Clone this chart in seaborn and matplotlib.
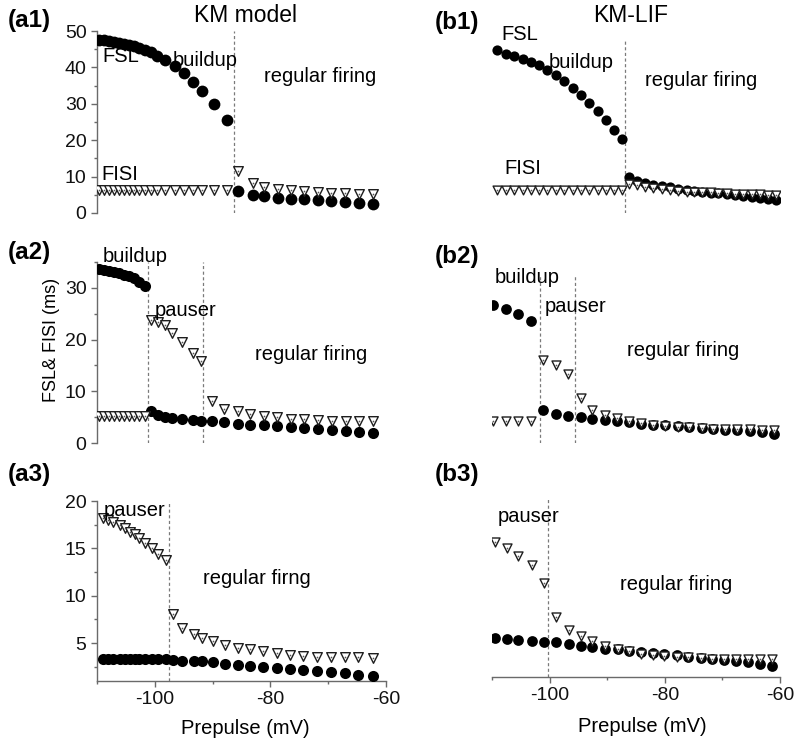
import matplotlib
matplotlib.use("Agg")
import matplotlib.pyplot as plt
import seaborn as sns
import pandas as pd
from matplotlib.ticker import MultipleLocator

# ---------------- data ----------------
a1_v = [-109.65, -108.79, -107.92, -107.06, -106.19, -105.27, -104.41, -103.54, -102.68, -101.70,
        -100.71, -99.67, -98.24, -96.51, -94.95, -93.45, -91.89, -89.76, -87.45,
        -85.55, -83.06, -81.05, -78.74, -76.44, -74.19, -71.82, -69.52, -67.09, -64.62, -62.19]
a1_fsl = [47.6, 47.4, 47.2, 47.0, 46.8, 46.5, 46.2, 45.8, 45.4, 44.8,
          44.1, 43.2, 42.0, 40.4, 38.5, 36.0, 33.4, 29.9, 25.5,
          5.96, 5.05, 4.67, 4.2, 3.94, 3.75, 3.48, 3.3, 3.02, 2.75, 2.4]
a1_fisi = [6.2, 6.2, 6.2, 6.2, 6.2, 6.2, 6.2, 6.2, 6.2, 6.2,
           6.2, 6.2, 6.2, 6.2, 6.2, 6.2, 6.2, 6.2, 6.2,
           11.5, 8.35, 7.15, 6.5, 6.2, 5.96, 5.78, 5.6, 5.5, 5.3, 5.1]

a2_v = [-109.65, -108.79, -107.92, -107.06, -106.19, -105.27, -104.41, -103.54, -102.68, -101.70,
        -100.6, -99.5, -98.2, -96.97, -95.35, -93.45, -92.0,
        -90.16, -87.97, -85.55, -83.53, -81.05, -78.92, -76.44, -74.19, -71.82, -69.40, -66.98, -64.62, -62.19]
a2_fsl = [33.65, 33.5, 33.3, 33.1, 32.9, 32.56, 32.2, 31.85, 31.2, 30.3,
          6.1, 5.45, 5.1, 4.9, 4.67, 4.48, 4.35,
          4.16, 3.97, 3.65, 3.5, 3.4, 3.2, 3.0, 2.88, 2.75, 2.55, 2.4, 2.2, 2.0]
a2_fisi = [5.3, 5.3, 5.3, 5.3, 5.3, 5.3, 5.3, 5.3, 5.3, 5.3,
           23.7, 23.4, 22.75, 21.3, 19.5, 17.4, 15.8,
           8.2, 6.6, 6.1, 5.6, 5.25, 5.0, 4.67, 4.55, 4.4, 4.35, 4.3, 4.23, 4.16]

a3_v = [-109.02, -108.04, -107.17, -106.02, -105.16, -104.29, -103.43, -102.68, -101.70, -100.54, -99.39, -98.06,
        -96.91, -95.35, -93.22, -91.89, -89.99, -87.85, -85.66, -83.53, -81.34, -78.92, -76.61, -74.30,
        -71.88, -69.57, -67.09, -64.79, -62.31]
a3_fsl = [3.35, 3.35, 3.35, 3.35, 3.35, 3.33, 3.33, 3.3, 3.3, 3.3, 3.28, 3.28,
          3.25, 3.14, 3.07, 3.07, 2.97, 2.79, 2.72, 2.62, 2.44, 2.37, 2.27, 2.16,
          2.02, 1.92, 1.81, 1.67, 1.5]
a3_fisi = [18.18, 18.0, 17.76, 17.48, 17.13, 16.78, 16.5, 16.08, 15.56, 15.03, 14.4, 13.8,
           8.04, 6.57, 5.94, 5.52, 5.24, 4.82, 4.47, 4.36, 4.12, 3.91, 3.77, 3.67,
           3.56, 3.56, 3.49, 3.49, 3.42]

b1_v = [-109.19, -107.63, -106.12, -104.68, -103.23, -101.84, -100.39, -98.95, -97.44, -95.99,
        -94.55, -93.10, -91.65, -90.27, -88.82, -87.49,
        -86.22, -84.88, -83.44, -81.99, -80.54, -79.10, -77.65, -76.20, -74.87, -73.48,
        -72.04, -70.71, -69.26, -67.81, -66.37, -64.92, -63.47, -62.03, -60.70]
b1_fsl = [44.7, 43.8, 43.0, 42.2, 41.5, 40.6, 39.4, 37.8, 36.2, 34.3,
          32.3, 30.2, 27.9, 25.5, 22.7, 20.2,
          9.9, 8.8, 8.25, 7.8, 7.4, 7.05, 6.7, 6.4, 6.15, 5.9,
          5.6, 5.4, 5.15, 4.85, 4.6, 4.3, 4.0, 3.75, 3.5]
b1_fisi = [6.4, 6.4, 6.4, 6.4, 6.4, 6.4, 6.4, 6.4, 6.4, 6.4,
           6.4, 6.4, 6.4, 6.4, 6.4, 6.4,
           8.1, 7.6, 7.15, 6.9, 6.5, 6.2, 6.05, 5.9, 5.8, 5.7,
           5.65, 5.6, 5.4, 5.35, 5.3, 5.15, 5.1, 5.0, 4.9]

b2_v = [-109.77, -107.63, -105.43, -103.23,
        -101.09, -98.95, -96.75,
        -94.61, -92.58, -90.38, -88.24, -86.22, -84.13, -81.99, -79.97, -77.77, -75.80, -73.60,
        -71.57, -69.55, -67.41, -65.21, -63.18, -60.98]
b2_fsl = [26.7, 25.95, 24.9, 23.5,
          6.4, 5.63, 5.25,
          5.0, 4.67, 4.48, 4.16, 4.03, 3.65, 3.52, 3.4, 3.2, 3.07, 2.88,
          2.69, 2.56, 2.43, 2.24, 2.05, 1.73]
b2_fisi = [4.3, 4.3, 4.3, 4.3,
           16.0, 15.06, 13.3,
           8.77, 6.4, 5.44, 4.8, 4.29, 3.85, 3.52, 3.33, 3.07, 3.0, 2.88,
           2.75, 2.69, 2.69, 2.69, 2.56, 2.56]

b3_v = [-109.5, -107.4, -105.4, -103.1, -101.0, -98.9, -96.7, -94.5, -92.6, -90.4, -88.2, -86.3,
        -84.2, -82.1, -80.1, -77.9, -76.0, -73.8, -71.8, -69.8, -67.7, -65.5, -63.5, -61.4]
b3_fsl = [5.08, 5.0, 4.9, 4.8, 4.73, 4.66, 4.5, 4.3, 4.13, 4.0, 3.96, 3.78,
          3.6, 3.5, 3.43, 3.32, 3.15, 2.97, 2.87, 2.8, 2.72, 2.55, 2.37, 2.2]
b3_fisi = [15.3, 14.6, 13.8, 12.8, 10.9, 7.3, 6.0, 5.3, 4.8, 4.3, 4.0, 3.7,
           3.4, 3.3, 3.25, 3.1, 3.1, 3.0, 2.9, 2.9, 2.85, 2.85, 2.85, 2.85]

# regime boundaries (mV)
a1_bounds = [-86.25]
a2_bounds = [-101.12, -91.72]
a3_bounds = [-97.54]
b1_bounds = [-86.9]
b2_bounds = [-101.67, -95.59]
b3_bounds = [-100.2]

x_ticks = [-100, -80, -60]

# ---------------- figure ----------------
sns.set_theme(style="white")
plt.rcParams['font.family'] = ['Liberation Sans', 'DejaVu Sans']
plt.rcParams['text.color'] = 'black'
plt.rcParams['axes.labelcolor'] = 'black'

W, H = 800, 748
fig = plt.figure(figsize=(8, 7.48), dpi=100)

def add_ax(x0, y0, x1, y1):
    return fig.add_axes([x0 / W, 1 - y1 / H, (x1 - x0) / W, (y1 - y0) / H])

def ftext(x, y, s, **kw):
    fig.text(x / W, 1 - y / H, s, ha='center', va='center', color='black', **kw)

AX_COL = '#6a6a6a'
ANN = 14.5
TICK = 14

def draw(ax, v, fsl, fisi, ylim, bounds, cs, ts, vspan=None):
    df = pd.DataFrame({'v': v, 'fsl': fsl, 'fisi': fisi})
    sns.scatterplot(data=df, x='v', y='fsl', ax=ax, color='black', s=cs, marker='o',
                    linewidth=0, zorder=3)
    sns.scatterplot(data=df, x='v', y='fisi', ax=ax, color='white', s=ts, marker='v',
                    edgecolor='#1e1e1e', linewidth=1.0, zorder=4)
    sns.scatterplot(data=df, x='v', y='fisi', ax=ax, color='#555555', s=1.5, marker='o',
                    linewidth=0, zorder=5)
    ax.set_xlim(-110, -60)
    ax.set_ylim(*ylim)
    for b in bounds:
        if vspan is None:
            ax.axvline(b, color='#7a7a7a', lw=0.9, ls=(0, (2.5, 2)), zorder=1)
        else:
            ax.vlines(b, vspan[0], vspan[1], color='#7a7a7a', lw=0.9, ls=(0, (2.5, 2)), zorder=1)
    ax.set_xlabel('')
    ax.set_ylabel('')
    for s in ax.spines.values():
        s.set_visible(False)
    ax.set_facecolor('none')

def style_y(ax, major, minor):
    ax.spines['left'].set_visible(True)
    ax.spines['left'].set_color(AX_COL)
    ax.spines['left'].set_linewidth(1.0)
    ax.yaxis.set_major_locator(MultipleLocator(major))
    ax.yaxis.set_minor_locator(MultipleLocator(minor))
    ax.tick_params(axis='y', which='both', left=True, direction='out', color=AX_COL,
                   labelsize=TICK, labelcolor='#111111', width=1.0)
    ax.tick_params(axis='y', which='major', length=4)
    ax.tick_params(axis='y', which='minor', length=2.5)

def style_x(ax):
    ax.spines['bottom'].set_visible(True)
    ax.spines['bottom'].set_color(AX_COL)
    ax.spines['bottom'].set_linewidth(1.0)
    ax.set_xticks(x_ticks)
    ax.set_xticklabels([str(t) for t in x_ticks])
    ax.xaxis.set_minor_locator(MultipleLocator(10))
    ax.tick_params(axis='x', which='both', bottom=True, direction='out', color=AX_COL,
                   labelsize=TICK, labelcolor='#111111', width=1.0)
    ax.tick_params(axis='x', which='major', length=4)
    ax.tick_params(axis='x', which='minor', length=2.5)

# a1
ax = add_ax(97, 31, 386, 213)
draw(ax, a1_v, a1_fsl, a1_fisi, (0, 50), a1_bounds, 72, 48)
style_y(ax, 10, 5)
ax.set_xticks([])

# a2
ax = add_ax(97, 262, 386, 443)
draw(ax, a2_v, a2_fsl, a2_fisi, (0, 35), a2_bounds, 64, 48)
style_y(ax, 10, 5)
ax.set_xticks([])

# a3
ax = add_ax(97, 501, 386, 681)
draw(ax, a3_v, a3_fsl, a3_fisi, (1, 20), a3_bounds, 64, 48)
style_y(ax, 5, 2.5)
ax.set_yticks([5, 10, 15, 20])
style_x(ax)

# b1
ax = add_ax(492, 31, 780, 213)
draw(ax, b1_v, b1_fsl, b1_fisi, (0, 50), b1_bounds, 54, 40, vspan=(0, 47.5))
ax.set_xticks([]); ax.set_yticks([])

# b2
ax = add_ax(492, 262, 780, 443)
draw(ax, b2_v, b2_fsl, b2_fisi, (0, 35), b2_bounds, 60, 42, vspan=(0, 32.4))
ax.set_xticks([]); ax.set_yticks([])

# b3
ax = add_ax(492, 497, 780, 677)
draw(ax, b3_v, b3_fsl, b3_fisi, (1, 20), b3_bounds, 60, 42)
ax.set_yticks([])
style_x(ax)

# ---------------- text ----------------
ftext(29, 20, '(a1)', fontsize=17.5, fontweight='bold')
ftext(457, 22, '(b1)', fontsize=17.5, fontweight='bold')
ftext(29, 253, '(a2)', fontsize=17.5, fontweight='bold')
ftext(457, 257, '(b2)', fontsize=17.5, fontweight='bold')
ftext(29, 475, '(a3)', fontsize=17.5, fontweight='bold')
ftext(457, 475, '(b3)', fontsize=17.5, fontweight='bold')

ftext(245, 15, 'KM model', fontsize=16.5)
ftext(631, 15, 'KM-LIF', fontsize=16.5)

ftext(121, 57, 'FSL', fontsize=ANN)
ftext(205, 60, 'buildup', fontsize=ANN)
ftext(320, 77, 'regular firing', fontsize=ANN)
ftext(120, 175, 'FISI', fontsize=ANN)

ftext(520, 35, 'FSL', fontsize=ANN)
ftext(581, 62, 'buildup', fontsize=ANN)
ftext(701, 81, 'regular firing', fontsize=ANN)
ftext(523, 168, 'FISI', fontsize=ANN)

ftext(135, 256, 'buildup', fontsize=ANN)
ftext(186, 310, 'pauser', fontsize=ANN)
ftext(311, 354, 'regular firing', fontsize=ANN)

ftext(527, 278, 'buildup', fontsize=ANN)
ftext(576, 307, 'pauser', fontsize=ANN)
ftext(683, 351, 'regular firing', fontsize=ANN)

ftext(135, 511, 'pauser', fontsize=ANN)
ftext(257, 578, 'regular firng', fontsize=ANN)

ftext(529, 517, 'pauser', fontsize=ANN)
ftext(676, 584, 'regular firing', fontsize=ANN)

ftext(51, 340, 'FSL& FISI (ms)', fontsize=13, rotation=90)
ftext(245, 728, 'Prepulse (mV)', fontsize=14.5)
ftext(642, 727, 'Prepulse (mV)', fontsize=14.5)

fig.savefig('out.png', dpi=100, facecolor='white')
